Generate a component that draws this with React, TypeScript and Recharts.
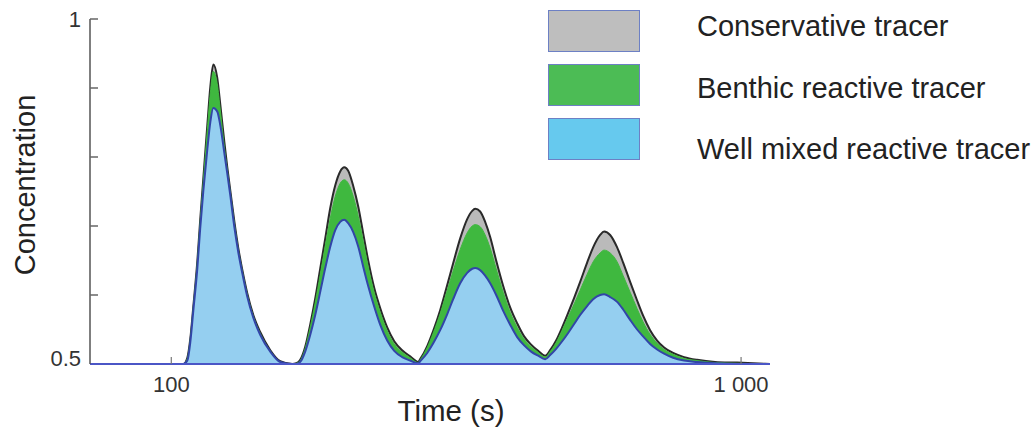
import { AreaChart, Area, XAxis, YAxis } from "recharts";

// time samples (s), log axis
const times = [
  72, 100,
  105.0, 106.7, 108.0, 109.3, 111.1, 112.4, 113.8, 115.7, 117.1, 118.5, 120.4, 121.9,
  123.9, 125.4, 126.9, 129.0, 131.1, 133.2, 135.9, 139.3, 143.3, 149.2, 155.3, 163.0,
  165.7, 168.4, 171.8, 175.3, 178.9, 182.6, 186.3, 190.1, 194.0, 197.9, 201.2, 204.4,
  208.6, 212.9, 217.2, 221.6, 227.1, 232.6, 239.3, 246.2, 254.2, 262.6, 271.2,
  273.4, 281.3, 288.2, 296.4, 304.9, 312.4, 321.4, 330.6, 337.4, 341.5, 348.4, 355.5,
  362.8, 371.7, 382.4, 393.3, 404.6, 416.2, 428.1, 440.4, 453.1,
  462.3, 473.6, 485.3, 497.2, 509.4, 521.9, 536.8, 550.0, 565.8, 575.0, 589.1, 606.0,
  620.9, 638.7, 657.0, 673.1, 692.4, 712.3, 732.7, 759.8, 794.3, 837.2, 900.3, 984.0, 1124,
];

const conservative = [
  0.5, 0.5,
  0.5, 0.509, 0.537, 0.583, 0.649, 0.709, 0.768, 0.847, 0.902, 0.934, 0.915, 0.876,
  0.822, 0.785, 0.752, 0.707, 0.668, 0.637, 0.603, 0.571, 0.546, 0.52, 0.504, 0.5,
  0.501, 0.506, 0.525, 0.557, 0.595, 0.639, 0.682, 0.726, 0.759, 0.779, 0.785, 0.78,
  0.758, 0.728, 0.689, 0.65, 0.61, 0.581, 0.553, 0.533, 0.52, 0.511, 0.503,
  0.507, 0.526, 0.548, 0.578, 0.614, 0.646, 0.682, 0.71, 0.722, 0.725, 0.721, 0.706,
  0.684, 0.65, 0.613, 0.582, 0.559, 0.54, 0.528, 0.519, 0.512,
  0.52, 0.534, 0.553, 0.574, 0.596, 0.619, 0.647, 0.669, 0.687, 0.692, 0.687, 0.669,
  0.647, 0.619, 0.592, 0.57, 0.549, 0.534, 0.524, 0.516, 0.51, 0.506, 0.503, 0.502, 0.5,
];

const benthic = [
  0.5, 0.5,
  0.5, 0.508, 0.536, 0.582, 0.647, 0.706, 0.764, 0.84, 0.893, 0.924, 0.906, 0.868,
  0.815, 0.781, 0.749, 0.704, 0.665, 0.635, 0.601, 0.569, 0.544, 0.519, 0.503, 0.5,
  0.501, 0.505, 0.523, 0.553, 0.589, 0.63, 0.671, 0.711, 0.743, 0.762, 0.767, 0.762,
  0.743, 0.714, 0.678, 0.641, 0.603, 0.575, 0.548, 0.529, 0.517, 0.509, 0.502,
  0.506, 0.524, 0.545, 0.573, 0.606, 0.635, 0.666, 0.69, 0.7, 0.702, 0.699, 0.687,
  0.668, 0.638, 0.604, 0.575, 0.553, 0.536, 0.525, 0.517, 0.51,
  0.518, 0.531, 0.549, 0.568, 0.587, 0.607, 0.63, 0.648, 0.661, 0.665, 0.661, 0.648,
  0.628, 0.604, 0.58, 0.561, 0.543, 0.53, 0.521, 0.514, 0.508, 0.505, 0.502, 0.501, 0.5,
];

const wellMixed = [
  0.5, 0.5,
  0.5, 0.505, 0.532, 0.577, 0.639, 0.697, 0.75, 0.812, 0.851, 0.871, 0.866, 0.846,
  0.806, 0.776, 0.745, 0.699, 0.662, 0.632, 0.598, 0.567, 0.542, 0.518, 0.503, 0.5,
  0.5, 0.503, 0.518, 0.542, 0.571, 0.605, 0.639, 0.67, 0.694, 0.706, 0.709, 0.704,
  0.691, 0.67, 0.641, 0.613, 0.583, 0.557, 0.534, 0.519, 0.51, 0.505, 0.501,
  0.504, 0.516, 0.53, 0.549, 0.572, 0.594, 0.617, 0.632, 0.638, 0.639, 0.636, 0.628,
  0.617, 0.6, 0.577, 0.557, 0.539, 0.527, 0.518, 0.512, 0.507,
  0.513, 0.522, 0.533, 0.545, 0.558, 0.571, 0.584, 0.594, 0.6, 0.601, 0.597, 0.59,
  0.579, 0.564, 0.55, 0.54, 0.529, 0.521, 0.515, 0.509, 0.505, 0.503, 0.501, 0.5, 0.5,
];

const xTicks = [100, 1000];
const xTickLabels = ["100", "1 000"];
const yTicks = [0.5, 0.6, 0.7, 0.8, 0.9, 1];
const yTickLabels = ["0.5", "", "", "", "", "1"];

const series = [
  { key: "conservative", name: "Conservative tracer", fill: "#bababa", stroke: "#2a2a2a", width: 2, swatch: "#bebebe" },
  { key: "benthic", name: "Benthic reactive tracer", fill: "#3fb83f", stroke: "#3fb83f", width: 1, swatch: "#4cbc55" },
  { key: "wellMixed", name: "Well mixed reactive tracer", fill: "#95cff0", stroke: "#3245a8", width: 2, swatch: "#66c9ee" },
];

const data = times.map((t, i) => ({
  t,
  conservative: conservative[i],
  benthic: benthic[i],
  wellMixed: wellMixed[i],
}));

const FONT = '"Liberation Sans", Arial, sans-serif';
const TICK_GAP = 10;

function XTick(props: any) {
  const { x, y, payload } = props;
  const axisY = y - TICK_GAP;
  const label = xTickLabels[xTicks.indexOf(payload.value)];
  return (
    <g>
      <line x1={x} x2={x} y1={axisY} y2={axisY - 7} stroke="#777" strokeWidth={1.2} />
      <text x={x} y={axisY + 20} textAnchor="middle" dominantBaseline="central" fontSize={22} fill="#333" fontFamily={FONT}>
        {label}
      </text>
    </g>
  );
}

function YTick(props: any) {
  const { x, y, payload } = props;
  const axisX = x + TICK_GAP;
  const i = yTicks.indexOf(payload.value);
  return (
    <g>
      {i > 0 && <line x1={axisX} x2={axisX + 8} y1={y} y2={y} stroke="#666" strokeWidth={1.5} />}
      <text x={axisX - 9} y={i === 0 ? y - 6 : y} textAnchor="end" dominantBaseline="central" fontSize={22} fill="#333" fontFamily={FONT}>
        {yTickLabels[i]}
      </text>
    </g>
  );
}

export default function App() {
  return (
    <div style={{ position: "absolute", left: 0, top: 0, width: 1036, height: 430, background: "#fff", fontFamily: FONT }}>
      <AreaChart width={1036} height={430} data={data} margin={{ top: 19, right: 266, bottom: 0, left: 0 }}>
        <XAxis
          dataKey="t"
          type="number"
          scale="log"
          domain={[72, 1124]}
          allowDataOverflow
          ticks={xTicks}
          tickSize={0}
          tickMargin={TICK_GAP}
          tickLine={false}
          tick={<XTick />}
          height={66}
          axisLine={{ stroke: "#4b56c6", strokeWidth: 2 }}
        />
        <YAxis
          type="number"
          domain={[0.5, 1]}
          allowDataOverflow
          ticks={yTicks}
          tickSize={0}
          tickMargin={TICK_GAP}
          tickLine={false}
          tick={<YTick />}
          width={90}
          axisLine={{ stroke: "#555", strokeWidth: 1.5 }}
        />
        {series.map((s) => (
          <Area
            key={s.key}
            type="monotone"
            dataKey={s.key}
            name={s.name}
            baseValue={0.5}
            fill={s.fill}
            fillOpacity={1}
            stroke={s.stroke}
            strokeWidth={s.width}
            dot={false}
            activeDot={false}
            isAnimationActive={false}
          />
        ))}
      </AreaChart>

      <div
        style={{
          position: "absolute",
          left: 25,
          top: 185,
          transform: "translate(-50%, -50%) rotate(-90deg)",
          fontSize: 29,
          color: "#222",
          whiteSpace: "nowrap",
        }}
      >
        Concentration
      </div>
      <div
        style={{
          position: "absolute",
          left: 451,
          top: 411,
          transform: "translate(-50%, -50%)",
          fontSize: 29.5,
          color: "#222",
          whiteSpace: "nowrap",
        }}
      >
        Time (s)
      </div>

      {series.map((s, i) => (
        <div key={s.key}>
          <div
            style={{
              position: "absolute",
              left: 548,
              top: 10 + i * 54,
              width: 92,
              height: 42,
              boxSizing: "border-box",
              background: s.swatch,
              border: "1.5px solid #6d80c4",
            }}
          />
          <div
            style={{
              position: "absolute",
              left: 697,
              top: 26 + i * 61.5,
              transform: "translateY(-50%)",
              fontSize: 29,
              color: "#222",
              whiteSpace: "nowrap",
            }}
          >
            {s.name}
          </div>
        </div>
      ))}
    </div>
  );
}
